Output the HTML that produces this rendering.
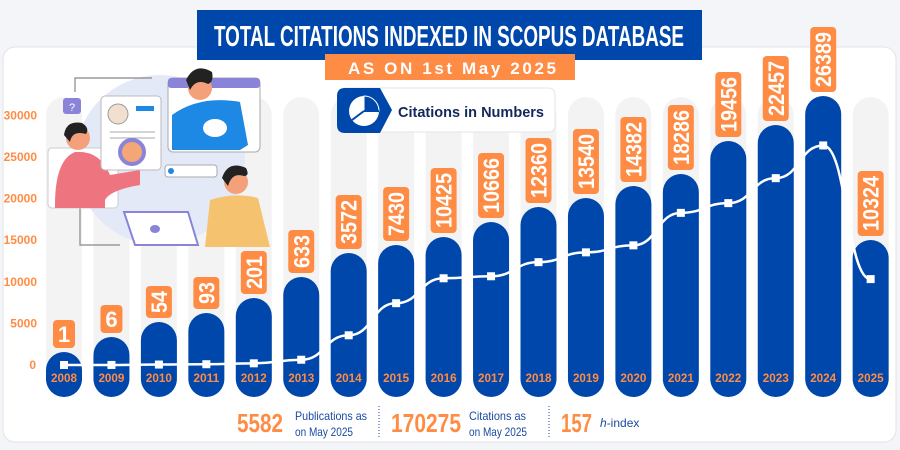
<!DOCTYPE html>
<html><head><meta charset="utf-8"><style>
html,body{margin:0;padding:0;background:#f4f5f8;}
svg{display:block}
text{font-family:"Liberation Sans",sans-serif;}
</style></head><body>
<svg width="900" height="450" viewBox="0 0 900 450" xmlns="http://www.w3.org/2000/svg">
<rect width="900" height="450" fill="#f4f5f8"/>
<rect x="3" y="47" width="893" height="395" rx="12" fill="#fff" stroke="#e3e3e6"/>
<g id="grey"></g>
<g id="bars"></g>
<!-- illustration -->
<g>
<ellipse cx="160" cy="160" rx="85" ry="85" fill="#e4e9f8"/>
<path d="M75 92 V78 H152" fill="none" stroke="#888" stroke-width="1.2"/>
<path d="M80 205 V245 H120" fill="none" stroke="#888" stroke-width="1.2"/>
<rect x="63" y="98" width="18" height="16" rx="3" fill="#8a84d8"/>
<text x="72" y="111" font-size="11" fill="#fff" text-anchor="middle">?</text>
<rect x="48" y="148" width="70" height="60" rx="4" fill="#fff" stroke="#ccc"/>
<path d="M55 205 Q55 160 75 152 Q100 150 110 175 L140 170 L140 185 Q110 190 105 200 V208 H55 Z" fill="#ee7480"/>
<circle cx="78" cy="138" r="12" fill="#f4a07a"/>
<path d="M64 135 Q66 120 82 123 Q90 128 86 134 Q72 130 70 142 Z" fill="#222"/>
<rect x="101" y="96" width="60" height="74" rx="4" fill="#fff" stroke="#bbb"/>
<circle cx="118" cy="114" r="10" fill="#f1e0d0" stroke="#999"/>
<rect x="136" y="106" width="18" height="5" fill="#1e88e5"/>
<line x1="110" y1="132" x2="155" y2="132" stroke="#aaa"/><line x1="110" y1="138" x2="155" y2="138" stroke="#aaa"/>
<circle cx="132" cy="152" r="12" fill="#f3a676" stroke="#8a84d8" stroke-width="4"/>
<rect x="168" y="78" width="92" height="74" rx="5" fill="#fff" stroke="#aaa"/>
<rect x="168" y="78" width="92" height="10" rx="3" fill="#8a84d8"/>
<path d="M172 150 L172 115 Q200 95 240 102 L248 145 L240 150 Z" fill="#1e88e5"/>
<ellipse cx="215" cy="128" rx="12" ry="9" fill="#fff"/>
<circle cx="200" cy="88" r="12" fill="#f4a07a"/>
<path d="M186 80 Q195 62 212 72 Q214 82 208 84 Q196 78 190 90 Z" fill="#222"/>
<rect x="165" y="165" width="52" height="12" rx="3" fill="#fff" stroke="#aaa"/>
<circle cx="171" cy="171" r="3" fill="#1e88e5"/>
<path d="M205 247 L210 200 Q235 192 258 198 L270 247 Z" fill="#f5c370"/>
<circle cx="236" cy="182" r="12" fill="#f4a07a"/>
<path d="M222 178 Q228 160 246 168 Q250 176 244 176 Q232 172 228 186 Z" fill="#222"/>
<path d="M124 212 L188 212 L198 245 L135 245 Z" fill="#fff" stroke="#8a84d8" stroke-width="2"/>
<ellipse cx="155" cy="229" rx="5" ry="4" fill="#8a84d8"/>
</g>
<!-- title -->
<rect x="197" y="10" width="505" height="50" fill="#0047ab"/>
<text x="449" y="46" font-size="29" font-weight="bold" fill="#fff" text-anchor="middle" textLength="470" lengthAdjust="spacingAndGlyphs">TOTAL CITATIONS INDEXED IN SCOPUS DATABASE</text>
<rect x="325" y="54" width="250" height="26" fill="#ff8c45"/>
<text x="452" y="74" font-size="17" font-weight="bold" fill="#fff" text-anchor="middle" textLength="208" lengthAdjust="spacing">AS ON 1st May 2025</text>
<rect x="340" y="88" width="215" height="44" rx="6" fill="#fff" stroke="#e6e6ea"/>
<path d="M345 88 H380 L392 110 L380 133 H345 Q337 133 337 125 V96 Q337 88 345 88 Z" fill="#0047ab"/>
<circle cx="364" cy="111" r="15" fill="#fff"/>
<path d="M364 111 L364 96 A15 15 0 0 1 379 111 Z" fill="#0047ab" stroke="#fff"/>
<path d="M364 111 L379 111" stroke="#0047ab" stroke-width="2"/><path d="M364 111 L352 120" stroke="#0047ab" stroke-width="2"/>
<text x="398" y="117" font-size="15" font-weight="bold" fill="#14285a" textLength="146" lengthAdjust="spacingAndGlyphs">Citations in Numbers</text>
<g id="yax" font-size="12" font-weight="bold" fill="#ff8c45" text-anchor="end"></g>
<g id="line"></g>
<g id="labels"></g>
<!-- footer -->
<text x="237" y="432" font-size="26" font-weight="bold" fill="#ff8c45" textLength="46" lengthAdjust="spacingAndGlyphs">5582</text>
<text x="295" y="420" font-size="12" fill="#1c4aa0" textLength="72" lengthAdjust="spacingAndGlyphs">Publications as</text>
<text x="295" y="436" font-size="12" fill="#1c4aa0" textLength="58" lengthAdjust="spacingAndGlyphs">on May 2025</text>
<line x1="379" y1="406" x2="379" y2="437" stroke="#1c4aa0" stroke-dasharray="1,2"/>
<text x="391" y="432" font-size="26" font-weight="bold" fill="#ff8c45" textLength="70" lengthAdjust="spacingAndGlyphs">170275</text>
<text x="469" y="420" font-size="12" fill="#1c4aa0" textLength="57" lengthAdjust="spacingAndGlyphs">Citations as</text>
<text x="469" y="436" font-size="12" fill="#1c4aa0" textLength="58" lengthAdjust="spacingAndGlyphs">on May 2025</text>
<line x1="549" y1="406" x2="549" y2="437" stroke="#1c4aa0" stroke-dasharray="1,2"/>
<text x="561" y="432" font-size="26" font-weight="bold" fill="#ff8c45" textLength="31" lengthAdjust="spacingAndGlyphs">157</text>
<text x="600" y="427" font-size="12" fill="#1c4aa0"><tspan font-style="italic">h</tspan>-index</text>
<g id="years" font-size="12" font-weight="bold" fill="#ff8c45" text-anchor="middle"></g>
</svg>
<script>
var ns="http://www.w3.org/2000/svg";
function el(p,t,a,txt){var e=document.createElementNS(ns,t);for(var k in a)e.setAttribute(k,a[k]);if(txt!==undefined)e.textContent=txt;document.getElementById(p).appendChild(e);return e;}
var vals=[1,6,54,93,201,633,3572,7430,10425,10666,12360,13540,14382,18286,19456,22457,26389,10324];
var tops=[352,337,322,313,298,277,253,245,237,222,207,198,186,174,141,125,96,240];
var W=36,bot=397;
for(var i=0;i<18;i++){
 var cx=64+47.45*i;
 el("grey","rect",{x:cx-W/2,y:97,width:W,height:bot-97,rx:18,fill:"#f3f3f4"});
 el("bars","rect",{x:cx-W/2,y:tops[i],width:W,height:bot-tops[i],rx:18,fill:"#0047ab"});
 el("years","text",{x:cx,y:382,textLength:26,lengthAdjust:"spacingAndGlyphs"},String(2008+i));
 var s=String(vals[i]),n=s.length,h=(n==1?28:11*n+10),bw=(n==1?22:26),by=tops[i]-4-h;
 el("labels","rect",{x:cx-bw/2,y:by,width:bw,height:h,rx:4,fill:"#ff8c45"});
 if(n==1){el("labels","text",{x:cx,y:by+22,"font-size":22,"font-weight":"bold",fill:"#fff","text-anchor":"middle"},s);}
 else{el("labels","text",{x:0,y:0,"font-size":22,"font-weight":"bold",fill:"#fff","text-anchor":"middle",transform:"translate("+(cx+8)+","+(by+h/2)+") rotate(-90)",textLength:h-10,lengthAdjust:"spacingAndGlyphs"},s);}
}
var ticks=[0,5000,10000,15000,20000,25000,30000];
ticks.forEach(function(t){el("yax","text",{x:t?37:36,y:365-t*0.00832+4},String(t));});
var pts=vals.map(function(v,i){return [64+47.45*i,365-v*0.00832];});
var d="M"+pts[0][0]+" "+pts[0][1];
for(var i=1;i<pts.length;i++){var p0=pts[i-1],p1=pts[i],mx=(p0[0]+p1[0])/2;d+=" C"+mx+" "+p0[1]+" "+mx+" "+p1[1]+" "+p1[0]+" "+p1[1];}
el("line","path",{d:d,fill:"none",stroke:"#fff","stroke-width":2.5});
pts.forEach(function(p){el("line","rect",{x:p[0]-4,y:p[1]-4,width:8,height:8,fill:"#fff"});});
</script>
</body></html>
